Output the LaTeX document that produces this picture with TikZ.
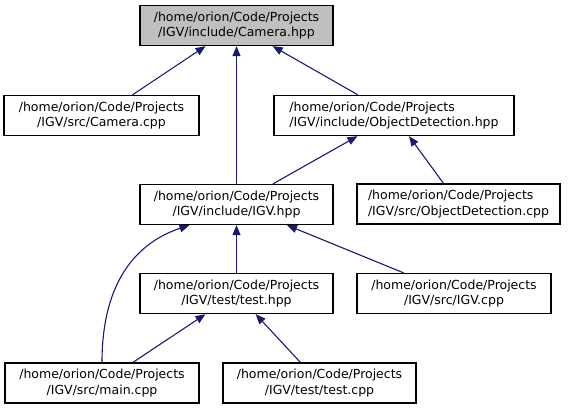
\documentclass[tikz,border=0pt]{standalone}
\usepackage{fontspec}
\setmainfont{DejaVu Sans}
\usepackage{tikz}
\usetikzlibrary{arrows.meta}
\definecolor{EdgeBlue}{RGB}{25, 25, 112}
\definecolor{RootGray}{RGB}{191, 191, 191}
\tikzset{
    filebox/.style={draw=black, line width=1.3pt, rectangle, inner sep=0pt,
        minimum height=40pt, align=center, font=\fontsize{12.5}{15.5}\selectfont},
    incl/.style={draw=EdgeBlue, line width=1.1pt, -{Triangle[length=10pt,width=8pt]}}
}

\begin{document}
\begin{tikzpicture}[x=1pt, y=-1pt]
    \useasboundingbox (0,0) rectangle (571,409);
    % nodes
    \node[filebox, fill=RootGray, minimum width=193pt] (cam) at (236.5,25.5) {/home/orion/Code/Projects\\/IGV/include/Camera.hpp};
    \node[filebox, minimum width=195pt] (camcpp) at (101.5,115.5) {/home/orion/Code/Projects\\/IGV/src/Camera.cpp};
    \node[filebox, minimum width=240pt, align=left] (odhpp) at (394,115.5) {/home/orion/Code/Projects\\/IGV/include/ObjectDetection.hpp};
    \node[filebox, minimum width=193pt] (igvhpp) at (236.5,204.5) {/home/orion/Code/Projects\\/IGV/include/IGV.hpp};
    \node[filebox, minimum width=203pt, align=left] (odcpp) at (458.5,204) {/home/orion/Code/Projects\\/IGV/src/ObjectDetection.cpp};
    \node[filebox, minimum width=193pt] (testhpp) at (236.5,293.5) {/home/orion/Code/Projects\\/IGV/test/test.hpp};
    \node[filebox, minimum width=194pt] (igvcpp) at (454,293.5) {/home/orion/Code/Projects\\/IGV/src/IGV.cpp};
    \node[filebox, minimum width=194pt] (maincpp) at (102,383) {/home/orion/Code/Projects\\/IGV/src/main.cpp};
    \node[filebox, minimum width=193pt] (testcpp) at (319.5,383) {/home/orion/Code/Projects\\/IGV/test/test.cpp};
    % edges
    \draw[incl] (camcpp) -- (cam);
    \draw[incl] (igvhpp) -- (cam);
    \draw[incl] (odhpp) -- (cam);
    \draw[incl] (igvhpp) -- (odhpp);
    \draw[incl] (odcpp) -- (odhpp);
    \draw[incl] (maincpp.north) .. controls (102,290) and (130,245) .. ([xshift=-47pt]igvhpp.south);
    \draw[incl] (testhpp) -- (igvhpp);
    \draw[incl] (igvcpp) -- (igvhpp);
    \draw[incl] (maincpp) -- (testhpp);
    \draw[incl] (testcpp) -- (testhpp);
\end{tikzpicture}
\end{document}
